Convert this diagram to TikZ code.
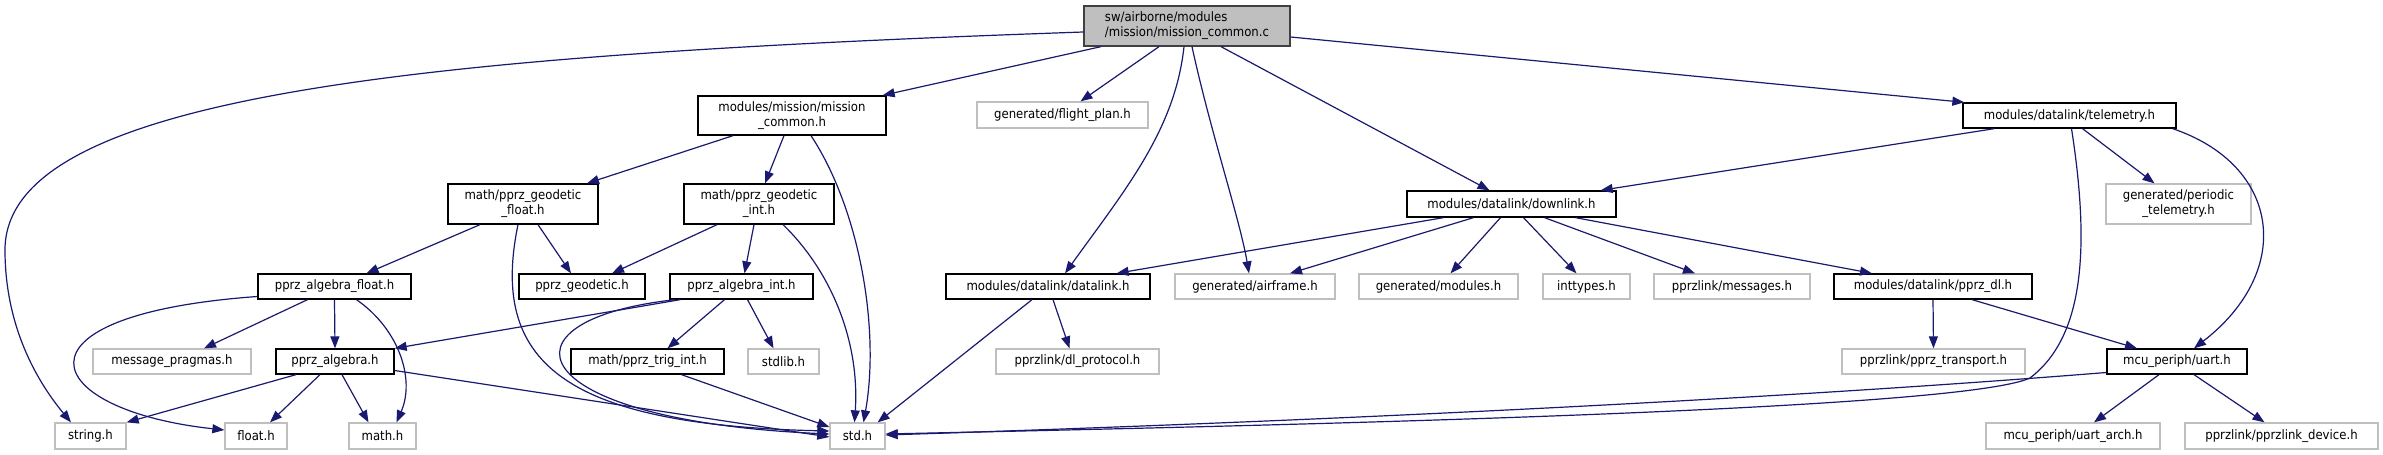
\documentclass[tikz,border=0pt]{standalone}
\usepackage{fontspec}
\setmainfont{DejaVu Sans Condensed}
\usetikzlibrary{arrows.meta,calc}
\definecolor{edgec}{HTML}{191970}
\definecolor{rootfill}{HTML}{BFBFBF}
\definecolor{grayb}{HTML}{BFBFBF}
\begin{document}
\begin{tikzpicture}[x=1pt,y=-1pt,
  base/.style={rectangle, inner sep=0pt, line width=1.3pt, fill=white, font=\fontsize{13}{15}\selectfont, align=center},
  doc/.style={base, draw=black},
  ext/.style={base, draw=grayb},
  root/.style={base, draw=black!75, fill=rootfill, align=left},
  dep/.style={draw=edgec, line width=1.2pt, -{Triangle[length=12pt,width=9pt]}}]
\useasboundingbox (0,0) rectangle (2383,455);
\fill[white] (0,0) rectangle (2383,455);
% row 0
\node[root, minimum width=206pt, minimum height=40pt] (mcc) at (1187,26) {sw/airborne/modules\\/mission/mission\_common.c};
% row 1
\node[doc, minimum width=188pt, minimum height=39pt] (mch) at (792,115.5) {modules/mission/mission\\\_common.h};
\node[ext, minimum width=171pt, minimum height=26pt] (fplan) at (1062.5,115) {generated/flight\_plan.h};
\node[doc, minimum width=213pt, minimum height=25pt] (telem) at (2069.5,115.5) {modules/datalink/telemetry.h};
% row 2
\node[doc, minimum width=150pt, minimum height=40pt] (geof) at (523,204) {math/pprz\_geodetic\\\_float.h};
\node[doc, minimum width=150pt, minimum height=40pt] (geoi) at (759,204) {math/pprz\_geodetic\\\_int.h};
\node[doc, minimum width=209pt, minimum height=26pt] (downl) at (1511.5,204) {modules/datalink/downlink.h};
\node[ext, minimum width=145pt, minimum height=40pt] (periodic) at (2178.5,204) {generated/periodic\\\_telemetry.h};
% row 3
\node[doc, minimum width=153pt, minimum height=25pt] (algf) at (334.5,286.5) {pprz\_algebra\_float.h};
\node[doc, minimum width=126pt, minimum height=25pt] (geod) at (582,286.5) {pprz\_geodetic.h};
\node[doc, minimum width=143pt, minimum height=25pt] (algi) at (741.5,286.5) {pprz\_algebra\_int.h};
\node[doc, minimum width=204pt, minimum height=25pt] (dlink) at (1048,286.5) {modules/datalink/datalink.h};
\node[ext, minimum width=160pt, minimum height=25pt] (airframe) at (1255,286.5) {generated/airframe.h};
\node[ext, minimum width=159pt, minimum height=25pt] (modules) at (1438.5,286.5) {generated/modules.h};
\node[ext, minimum width=87pt, minimum height=25pt] (inttypes) at (1586.5,286.5) {inttypes.h};
\node[ext, minimum width=156pt, minimum height=25pt] (messages) at (1732,286.5) {pprzlink/messages.h};
\node[doc, minimum width=198pt, minimum height=25pt] (pprzdl) at (1933,286.5) {modules/datalink/pprz\_dl.h};
% row 4
\node[ext, minimum width=158pt, minimum height=25pt] (msgprag) at (172,361.5) {message\_pragmas.h};
\node[doc, minimum width=118pt, minimum height=25pt] (alg) at (335,361.5) {pprz\_algebra.h};
\node[doc, minimum width=153pt, minimum height=25pt] (trig) at (647.5,361.5) {math/pprz\_trig\_int.h};
\node[ext, minimum width=71pt, minimum height=25pt] (stdlib) at (783.5,361.5) {stdlib.h};
\node[ext, minimum width=163pt, minimum height=25pt] (dlproto) at (1077.5,361.5) {pprzlink/dl\_protocol.h};
\node[ext, minimum width=183pt, minimum height=25pt] (transport) at (1933.5,361.5) {pprzlink/pprz\_transport.h};
\node[doc, minimum width=140pt, minimum height=25pt] (uart) at (2177,361.5) {mcu\_periph/uart.h};
% row 5
\node[ext, minimum width=71pt, minimum height=26pt] (string) at (90.5,436) {string.h};
\node[ext, minimum width=62pt, minimum height=26pt] (float) at (256,436) {float.h};
\node[ext, minimum width=67pt, minimum height=26pt] (math) at (382.5,436) {math.h};
\node[ext, minimum width=55pt, minimum height=26pt] (std) at (857.5,436) {std.h};
\node[ext, minimum width=174pt, minimum height=26pt] (uartarch) at (2073,436) {mcu\_periph/uart\_arch.h};
\node[ext, minimum width=193pt, minimum height=26pt] (device) at (2281.5,436) {pprzlink/pprzlink\_device.h};

% edges from mission_common.c
\draw[dep] ($(mcc.west)+(0,6)$) .. controls (420,55) and (5,95) .. (5,250) .. controls (5,330) and (40,385) .. ($(string.north)+(-19.5,0)$);
\draw[dep] ($(mcc.south)+(-86,0)$) -- ($(mch.north east)+(-4,0)$);
\draw[dep] ($(mcc.south)+(-28,0)$) -- ($(fplan.north)+(18,0)$);
\draw[dep] ($(mcc.south)+(-3,0)$) .. controls (1175,130) and (1125,190) .. ($(dlink.north)+(17,0)$);
\draw[dep] ($(mcc.south)+(5,0)$) .. controls (1210,130) and (1240,220) .. ($(airframe.north)+(-6,0)$);
\draw[dep] ($(mcc.south)+(34,0)$) -- ($(downl.north)+(-22,0)$);
\draw[dep] ($(mcc.east)+(0,11)$) -- ($(telem.north west)+(2,0)$);
% mission_common.h
\draw[dep] ($(mch.south)+(-59,0)$) -- ($(geof.north)+(64,0)$);
\draw[dep] ($(mch.south)+(-8,0)$) -- ($(geoi.north)+(6,0)$);
\draw[dep] ($(mch.south)+(19,0)$) .. controls (860,210) and (880,330) .. ($(std.north)+(6,0)$);
% pprz_geodetic_float.h
\draw[dep] ($(geof.south)+(-43,0)$) -- ($(algf.north)+(32,0)$);
\draw[dep] ($(geof.south)+(15,0)$) -- ($(geod.north)+(-11,0)$);
\draw[dep] ($(geof.south)+(-5,0)$) .. controls (490,360) and (560,425) .. ($(std.west)+(0,-5)$);
% pprz_geodetic_int.h
\draw[dep] ($(geoi.south)+(-42,0)$) -- ($(geod.north)+(30,0)$);
\draw[dep] ($(geoi.south)+(-5,0)$) -- ($(algi.north)+(3,0)$);
\draw[dep] ($(geoi.south)+(24,0)$) .. controls (830,270) and (860,340) .. ($(std.north)+(-3,0)$);
% pprz_algebra_float.h
\draw[dep] ($(algf.south)+(-27,0)$) -- ($(msgprag.north)+(32,0)$);
\draw[dep] (algf.south) -- (alg.north);
\draw[dep] ($(algf.south)+(22,0)$) .. controls (400,330) and (415,380) .. ($(math.north)+(14,0)$);
\draw[dep] ($(algf.west)+(0,10)$) .. controls (0,315) and (40,410) .. ($(float.west)+(0,-6)$);
% pprz_algebra_int.h
\draw[dep] ($(algi.south west)+(11,0)$) -- (alg.north east);
\draw[dep] ($(algi.south)+(-17,0)$) -- ($(trig.north)+(20,0)$);
\draw[dep] ($(algi.south)+(6,0)$) -- ($(stdlib.north)+(-10,0)$);
\draw[dep] ($(algi.south west)+(6,0)$) .. controls (490,320) and (520,420) .. ($(std.west)+(0,-2)$);
% pprz_algebra.h
\draw[dep] ($(alg.south)+(-39,0)$) -- (string.north east);
\draw[dep] ($(alg.south)+(-15,0)$) -- ($(float.north)+(14,0)$);
\draw[dep] ($(alg.south)+(7,0)$) -- ($(math.north)+(-14,0)$);
\draw[dep] ($(alg.east)+(0,9)$) -- ($(std.west)+(0,1)$);
% pprz_trig_int.h
\draw[dep] ($(trig.south)+(34,0)$) -- ($(std.west)+(0,-9)$);
% telemetry.h
\draw[dep] ($(telem.south west)+(32,0)$) -- ($(downl.north east)+(-16,0)$);
\draw[dep] ($(telem.south)+(13,0)$) -- ($(periodic.north)+(-24,0)$);
\draw[dep] ($(telem.south east)+(-4,0)$) .. controls (2280,165) and (2295,270) .. ($(uart.north)+(17,0)$);
\draw[dep] ($(telem.south)+(2,0)$) .. controls (2092,260) and (2080,340) .. (2030,378) .. controls (1960,410) and (1300,425) .. ($(std.east)+(0,-2)$);
% downlink.h
\draw[dep] ($(downl.south)+(-68,0)$) -- ($(dlink.north east)+(-34,0)$);
\draw[dep] ($(downl.south)+(-38,0)$) -- ($(airframe.north)+(35,0)$);
\draw[dep] ($(downl.south)+(-11,0)$) -- ($(modules.north)+(12,0)$);
\draw[dep] ($(downl.south)+(12,0)$) -- ($(inttypes.north)+(-10,0)$);
\draw[dep] ($(downl.south)+(33,0)$) -- ($(messages.north)+(-37,0)$);
\draw[dep] ($(downl.south)+(64,0)$) -- ($(pprzdl.north)+(-61,0)$);
% datalink.h
\draw[dep] ($(dlink.south)+(-16,0)$) -- ($(std.north east)+(-8,0)$);
\draw[dep] ($(dlink.south)+(5,0)$) -- ($(dlproto.north)+(-8,0)$);
% pprz_dl.h
\draw[dep] (pprzdl.south) -- (transport.north);
\draw[dep] ($(pprzdl.south)+(39,0)$) -- ($(uart.north)+(-40,0)$);
% uart.h
\draw[dep] ($(uart.west)+(0,11)$) .. controls (1700,405) and (1200,425) .. ($(std.east)+(0,-1)$);
\draw[dep] ($(uart.south)+(-18,0)$) -- ($(uartarch.north)+(21,0)$);
\draw[dep] ($(uart.south)+(17,0)$) -- ($(device.north)+(-17,0)$);
\end{tikzpicture}
\end{document}
